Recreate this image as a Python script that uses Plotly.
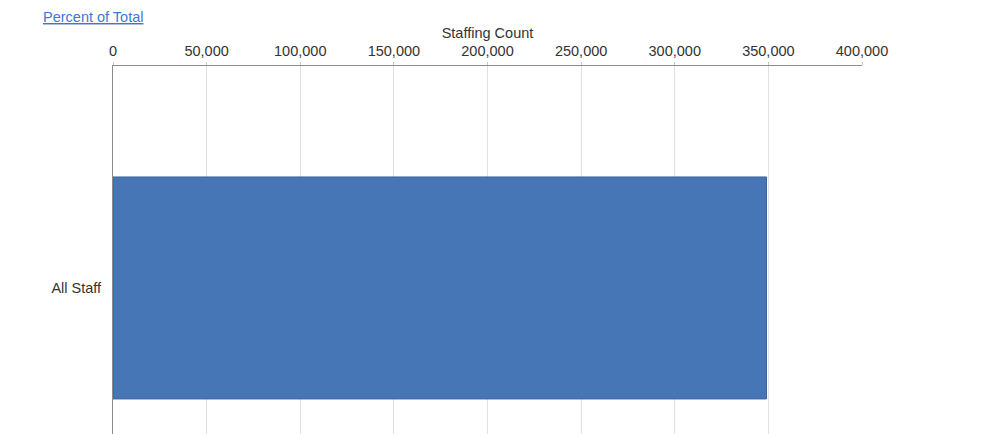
import plotly.graph_objects as go

categories = ["All Staff"]
staff_counts = [349000]
x_tick_vals = [0, 50000, 100000, 150000, 200000, 250000, 300000, 350000, 400000]
x_tick_text = ["0", "50,000", "100,000", "150,000", "200,000", "250,000", "300,000", "350,000", "400,000"]

FONT = "Liberation Sans, Arial, sans-serif"
FS = 14.5

fig = go.Figure()
fig.add_trace(go.Bar(
    y=categories, x=staff_counts, orientation="h", width=0.5,
    marker=dict(color="#4676b6", line=dict(color="#3d639a", width=1)),
))

fig.update_layout(
    width=985, height=426,
    margin=dict(l=105, r=131, t=58, b=0),
    paper_bgcolor="white", plot_bgcolor="white",
    font=dict(family=FONT, size=FS, color="#333333"),
    showlegend=False,
    xaxis=dict(
        side="top", range=[0, 400000], tickvals=x_tick_vals, ticktext=x_tick_text,
        showgrid=True, gridcolor="#e0e0e0", gridwidth=1,
        showline=True, linecolor="#8c8c8c", linewidth=1,
        ticks="outside", ticklen=3, tickcolor="#c8c8c8",
        zeroline=False,
        title=dict(text="Staffing Count", standoff=1, font=dict(size=FS, color="#333333")),
        tickfont=dict(size=FS, color="#333333"),
    ),
    yaxis=dict(
        range=[-0.329, 0.5], showgrid=False, zeroline=False,
        showline=True, linecolor="#8c8c8c", linewidth=1,
        ticks="", ticklabelstandoff=8,
        tickfont=dict(size=FS, color="#333333"),
    ),
    annotations=[dict(
        text="Percent of Total", xref="paper", yref="paper",
        x=(34 - 105) / 749, y=1 + 58 / 368, xanchor="left", yanchor="top",
        showarrow=False, borderpad=0,
        font=dict(size=FS, color="#3c78d8", family=FONT, lineposition="under"),
    )],
)

fig.write_html("out.html")
